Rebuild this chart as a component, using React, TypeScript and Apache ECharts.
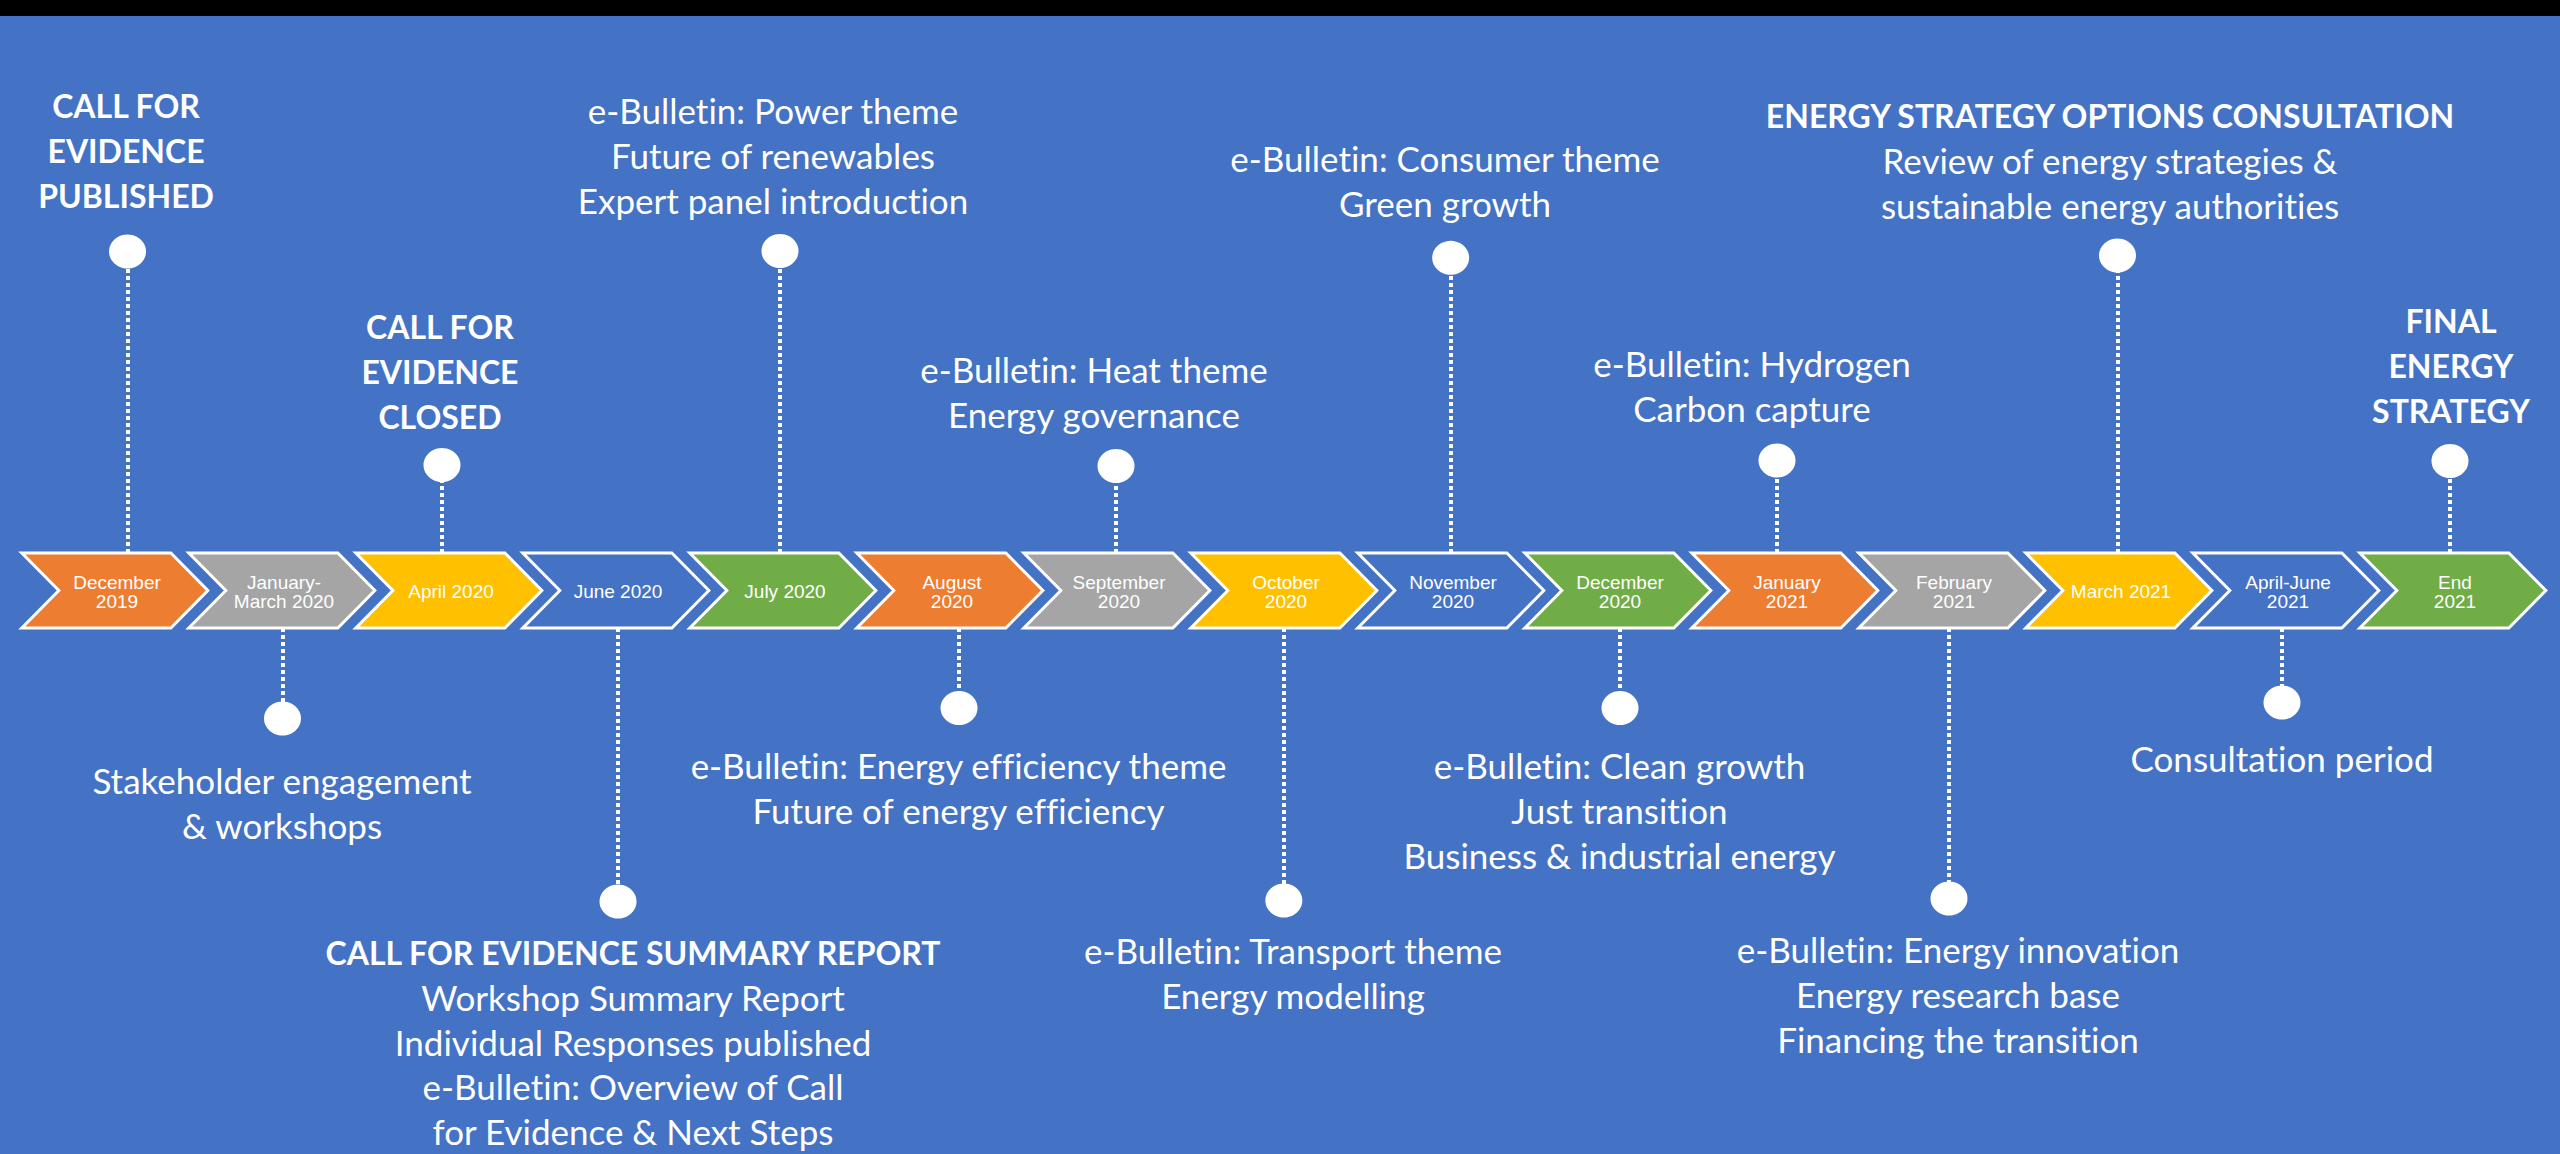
import React, { useEffect, useRef } from "react";
import * as echarts from "echarts";

// ---- data ----
const periods = [
  "December\n2019", "January-\nMarch 2020", "April 2020", "June 2020", "July 2020",
  "August\n2020", "September\n2020", "October\n2020", "November\n2020", "December\n2020",
  "January\n2021", "February\n2021", "March 2021", "April-June\n2021", "End\n2021",
];
const periodIndex = periods.map((_, i) => i);

// event marker position along the timeline (period units) and stem height (units above the band centre)
const eventX = [0.075, 1.003, 1.958, 3.012, 3.982, 5.054, 5.994, 6.999, 7.998, 9.012, 9.952, 10.982, 11.991, 12.976, 13.982];
const eventY = [339, -128, 125.5, -311, 339.5, -117.5, 124.5, -310, 332.7, -117.5, 130, -308, 335, -112, 129.5];
// anchor of each text block (the line nearest the marker)
const labelX = [0.066, 1.0, 1.946, 3.102, 3.94, 5.051, 5.862, 7.054, 7.964, 9.009, 9.802, 11.036, 11.946, 12.976, 13.988];
const labelY = [395.5, -189.5, 174.5, -361.5, 390.5, -174.5, 176.5, -359.5, 387.5, -174.5, 182.5, -358.5, 385.5, -167.5, 180.5];

const eventLines = [
  ["CALL FOR", "EVIDENCE", "PUBLISHED"],
  ["Stakeholder engagement", "& workshops"],
  ["CALL FOR", "EVIDENCE", "CLOSED"],
  ["CALL FOR EVIDENCE SUMMARY REPORT", "Workshop Summary Report", "Individual Responses published", "e-Bulletin: Overview of Call", "for Evidence & Next Steps"],
  ["e-Bulletin: Power theme", "Future of renewables", "Expert panel introduction"],
  ["e-Bulletin: Energy efficiency theme", "Future of energy efficiency"],
  ["e-Bulletin: Heat theme", "Energy governance"],
  ["e-Bulletin: Transport theme", "Energy modelling"],
  ["e-Bulletin: Consumer theme", "Green growth"],
  ["e-Bulletin: Clean growth", "Just transition", "Business & industrial energy"],
  ["e-Bulletin: Hydrogen", "Carbon capture"],
  ["e-Bulletin: Energy innovation", "Energy research base", "Financing the transition"],
  ["ENERGY STRATEGY OPTIONS CONSULTATION", "Review of energy strategies &", "sustainable energy authorities"],
  ["Consultation period"],
  ["FINAL", "ENERGY", "STRATEGY"],
];
// number of leading headline (bold) lines per event
const eventBoldLines = [3, 0, 3, 1, 0, 0, 0, 0, 0, 0, 0, 0, 1, 0, 3];

// ---- style ----
const palette = ["#ED7D31", "#A5A5A5", "#FFC000", "#4472C4", "#70AD47"];
const BG = "#4472C4";
const BAND_HALF = 37.5;
const LABEL_FONT = "Lato";
const LABEL_SIZE = 35;
const BOLD_SIZE = 32;
const LINE_GAP = 44.8;

export default function App() {
  const ref = useRef<HTMLDivElement>(null);

  useEffect(() => {
    if (!ref.current) return;
    const chart = echarts.init(ref.current, undefined, { renderer: "svg" });

    const option: any = {
      animation: false,
      backgroundColor: BG,
      grid: { left: 0, right: 0, top: 0, bottom: 0 },
      xAxis: { type: "value", min: -115 / 167, max: (2560 - 115) / 167, show: false },
      yAxis: { type: "value", min: -563.5, max: 590.5, show: false },
      graphic: [
        { type: "rect", shape: { x: 0, y: 0, width: 2560, height: 16 }, style: { fill: "#000" }, z: 100 },
      ],
      series: [
        {
          type: "custom",
          name: "periods",
          z: 2,
          data: periodIndex.map((i) => [i, 0]),
          renderItem: (params: any, api: any) => {
            const i = params.dataIndex;
            const c = api.coord([api.value(0), 0]);
            const sx = api.size([1, 0])[0];
            const hh = api.size([0, BAND_HALF])[1];
            const d = api.size([0, 37])[1];
            const left = c[0] - 0.558 * sx;
            const w = 1.114 * sx;
            const top = c[1] - hh;
            const bot = c[1] + hh;
            return {
              type: "group",
              children: [
                {
                  type: "polygon",
                  shape: {
                    points: [
                      [left, top], [left + w - d, top], [left + w, c[1]],
                      [left + w - d, bot], [left, bot], [left + d, c[1]],
                    ],
                  },
                  style: { fill: palette[i % palette.length], stroke: "#fff", lineWidth: 3 },
                },
                {
                  type: "text",
                  x: c[0] + 2,
                  y: c[1] + 1,
                  style: {
                    text: periods[i],
                    fill: "#fff",
                    fontFamily: "Liberation Sans",
                    fontSize: 19,
                    lineHeight: 19,
                    align: "center",
                    verticalAlign: "middle",
                  },
                },
              ],
            };
          },
        },
        {
          type: "lines",
          name: "stems",
          coordinateSystem: "cartesian2d",
          z: 3,
          lineStyle: { color: "#fff", width: 4, type: [4, 3], opacity: 1 },
          data: eventX.map((x, i) => ({
            coords: [[x, eventY[i] > 0 ? BAND_HALF : -BAND_HALF], [x, eventY[i]]],
          })),
        },
        {
          type: "scatter",
          name: "events",
          z: 4,
          symbol: "circle",
          symbolSize: [37, 34],
          itemStyle: { color: "#fff", opacity: 1 },
          data: eventX.map((x, i) => [x, eventY[i]]),
        },
        {
          type: "custom",
          name: "labels",
          z: 5,
          data: labelX.map((x, i) => [x, labelY[i]]),
          renderItem: (params: any, api: any) => {
            const i = params.dataIndex;
            const p = api.coord([api.value(0), api.value(1)]);
            const lines = eventLines[i];
            const isTop = api.value(1) > 0;
            const n = lines.length;
            return {
              type: "group",
              children: lines.map((t, k) => {
                const bold = k < eventBoldLines[i];
                return {
                  type: "text",
                  x: p[0],
                  y: isTop ? p[1] - (n - 1 - k) * LINE_GAP : p[1] + k * LINE_GAP,
                  style: {
                    text: t,
                    fill: "#fff",
                    fontFamily: LABEL_FONT,
                    fontSize: bold ? BOLD_SIZE : LABEL_SIZE,
                    fontWeight: bold ? "bold" : "normal",
                    align: "center",
                    verticalAlign: "middle",
                  },
                };
              }),
            };
          },
        },
      ],
    };

    chart.setOption(option);
    return () => chart.dispose();
  }, []);

  return (
    <>
      <style>{"svg text{font-variant-ligatures:none;font-feature-settings:'liga' 0,'clig' 0;}"}</style>
      <div
        ref={ref}
        style={{ position: "fixed", left: 0, top: 0, width: "2560px", height: "1154px" }}
      />
    </>
  );
}
